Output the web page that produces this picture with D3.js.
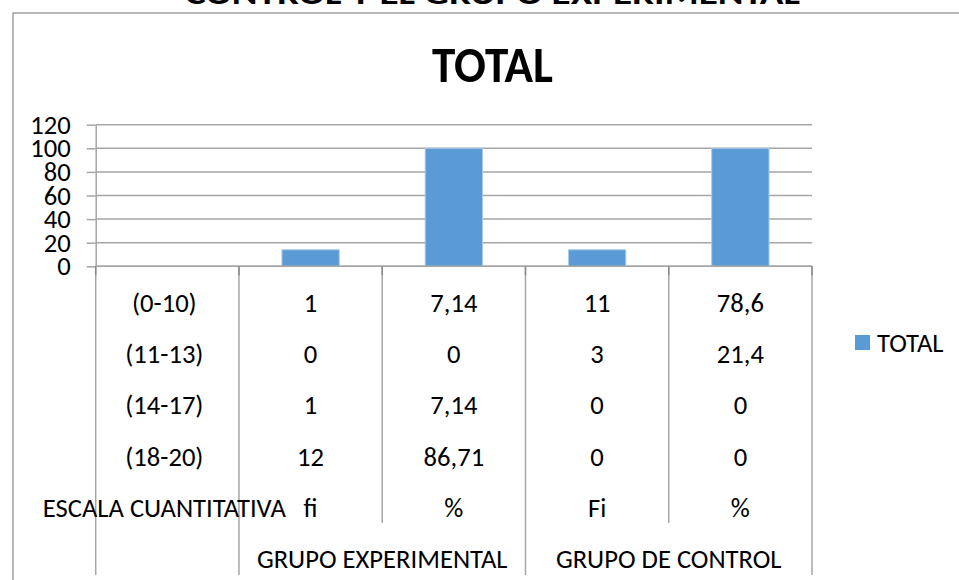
<!DOCTYPE html>
<html>
<head>
<meta charset="utf-8">
<title>TOTAL</title>
<script src="https://cdn.jsdelivr.net/npm/d3@7"></script>
<style>
  html, body { margin: 0; padding: 0; background: #fff; overflow: hidden; }
  svg { display: block; font-family: "Carlito", "Liberation Sans", Arial, sans-serif; }
</style>
</head>
<body>
<div id="chart"></div>
<script>
// Data
const catLabels = [
  ["(0-10)", "(11-13)", "(14-17)", "(18-20)", "ESCALA CUANTITATIVA"],
  ["1", "0", "1", "12", "fi"],
  ["7,14", "0", "7,14", "86,71", "%"],
  ["11", "3", "0", "0", "Fi"],
  ["78,6", "21,4", "0", "0", "%"]
];
const groupLabels = ["", "GRUPO EXPERIMENTAL", "GRUPO DE CONTROL"];
const groupSpans = [1, 2, 2];
const totals = [null, 14, 100, 14, 100];
const yTicks = [0, 20, 40, 60, 80, 100, 120];
const seriesName = "TOTAL";

const W = 959, H = 580;
const barColor = "#5b9bd5";
const gridColor = "#a6a6a6";
const fs = 26.6;

const svg = d3.select("#chart").append("svg")
  .attr("width", W)
  .attr("height", H);

// cut-off heading above the chart frame
svg.append("text")
  .attr("x", 185).attr("y", 4)
  .attr("font-size", 30)
  .attr("font-weight", "bold")
  .attr("textLength", 615)
  .attr("lengthAdjust", "spacingAndGlyphs")
  .text("CONTROL Y EL GRUPO EXPERIMENTAL");

// chart frame (runs off the right and bottom edges)
svg.append("rect")
  .attr("x", 13).attr("y", 13)
  .attr("width", 1200).attr("height", 1200)
  .attr("fill", "#fff")
  .attr("stroke", "#a0a0a0")
  .attr("stroke-width", 1.5);

// chart title
svg.append("text")
  .attr("x", 492.5).attr("y", 82)
  .attr("text-anchor", "middle")
  .attr("font-size", 50)
  .attr("font-weight", "bold")
  .attr("textLength", 121)
  .attr("lengthAdjust", "spacingAndGlyphs")
  .text("TOTAL");

// scales
const x = d3.scaleBand()
  .domain(d3.range(totals.length))
  .range([95.7, 812])
  .padding(0);

const y = d3.scaleLinear()
  .domain([0, 120])
  .range([266.3, 124.7]);

// gridlines
svg.append("g")
  .selectAll("line")
  .data(yTicks)
  .enter().append("line")
  .attr("x1", x.range()[0]).attr("x2", x.range()[1])
  .attr("y1", d => y(d)).attr("y2", d => y(d))
  .attr("stroke", gridColor)
  .attr("stroke-width", 1.5);

// y axis
const yAxis = svg.append("g")
  .attr("transform", `translate(${x.range()[0]},0)`)
  .call(d3.axisLeft(y).tickValues(yTicks).tickSize(9).tickPadding(16).tickSizeOuter(0));
yAxis.select(".domain").attr("stroke", gridColor).attr("stroke-width", 1.5);
yAxis.selectAll(".tick line").attr("stroke", gridColor).attr("stroke-width", 1.5);
yAxis.selectAll(".tick text")
  .attr("font-size", fs)
  .attr("font-family", "Carlito, 'Liberation Sans', Arial, sans-serif")
  .attr("fill", "#000");

// bars
const bw = x.bandwidth() * 0.4;
svg.append("g")
  .selectAll("rect")
  .data(totals.map((v, i) => ({ i, v })).filter(d => d.v != null))
  .enter().append("rect")
  .attr("x", d => x(d.i) + (x.bandwidth() - bw) / 2)
  .attr("y", d => y(d.v))
  .attr("width", bw)
  .attr("height", d => y(0) - y(d.v))
  .attr("fill", barColor)
  .attr("stroke", "#a8c9ea")
  .attr("stroke-width", 1);

// category table below the axis
const y0 = y(0);
const rowStep = 51.3;
const rowY0 = 302.3;
const tableBottom = 575;
const innerBottom = 523;

// boundaries: group edges run full depth, inner edges stop above the group row
const groupEdges = new Set([0]);
let acc = 0;
groupSpans.forEach(s => { acc += s; groupEdges.add(acc); });
const boundaries = d3.range(totals.length + 1);
const edgeX = i => i < totals.length ? x(i) : x.range()[1];

svg.append("g")
  .selectAll("line")
  .data(boundaries)
  .enter().append("line")
  .attr("x1", edgeX).attr("x2", edgeX)
  .attr("y1", y0)
  .attr("y2", d => groupEdges.has(d) ? tableBottom : innerBottom)
  .attr("stroke", gridColor)
  .attr("stroke-width", 1.5);

// x axis line + short ticks
svg.append("line")
  .attr("x1", x.range()[0]).attr("x2", x.range()[1])
  .attr("y1", y0).attr("y2", y0)
  .attr("stroke", gridColor)
  .attr("stroke-width", 1.5);
svg.append("g")
  .selectAll("line")
  .data(boundaries)
  .enter().append("line")
  .attr("x1", edgeX).attr("x2", edgeX)
  .attr("y1", y0).attr("y2", y0 + 9)
  .attr("stroke", "#8c8c8c")
  .attr("stroke-width", 1.5);

// category labels
catLabels.forEach((lines, c) => {
  svg.append("g")
    .selectAll("text")
    .data(lines)
    .enter().append("text")
    .attr("x", x(c) + x.bandwidth() / 2 + (c === 0 ? -3 : 0))
    .attr("y", (d, r) => rowY0 + r * rowStep)
    .attr("dy", "0.35em")
    .attr("text-anchor", "middle")
    .attr("font-size", fs)
    .attr("fill", "#000")
    .text(d => d);
});

// group labels
let start = 0;
groupLabels.forEach((g, k) => {
  const span = groupSpans[k];
  const cx = (x(start) + edgeX(start + span)) / 2;
  svg.append("text")
    .attr("x", cx)
    .attr("y", rowY0 + 5 * rowStep)
    .attr("dy", "0.35em")
    .attr("text-anchor", "middle")
    .attr("font-size", fs)
    .attr("fill", "#000")
    .text(g);
  start += span;
});

// legend
const legend = svg.append("g").attr("transform", "translate(855,335)");
legend.append("rect")
  .attr("width", 15).attr("height", 15)
  .attr("fill", barColor);
legend.append("text")
  .attr("x", 22).attr("y", 7.5)
  .attr("dy", "0.35em")
  .attr("font-size", fs)
  .attr("fill", "#000")
  .text(seriesName);
</script>
</body>
</html>
